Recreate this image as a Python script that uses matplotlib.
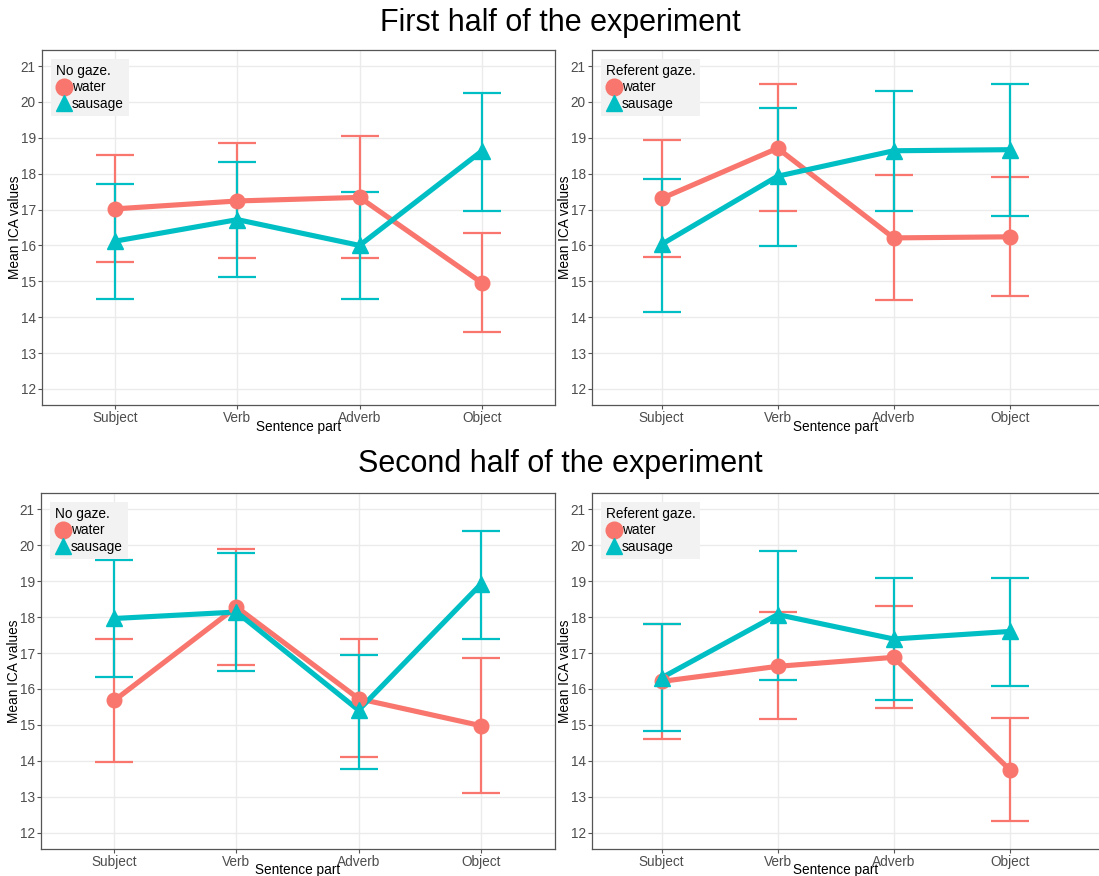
import matplotlib
matplotlib.use("Agg")
import matplotlib.pyplot as plt
from matplotlib.lines import Line2D
import numpy as np

plt.rcParams['font.family'] = ['Liberation Sans', 'DejaVu Sans']

categories = ["Subject", "Verb", "Adverb", "Object"]
series_names = ["water", "sausage"]
legend_titles = ["No gaze.", "Referent gaze.", "No gaze.", "Referent gaze."]
titles = ["First half of the experiment", "Second half of the experiment"]

# panel 1: first half, no gaze
p1_water = [17.02, 17.24, 17.34, 14.96]
p1_water_lo = [15.55, 15.65, 15.64, 13.58]
p1_water_hi = [18.51, 18.85, 19.04, 16.36]
p1_sausage = [16.12, 16.72, 16.00, 18.63]
p1_sausage_lo = [14.52, 15.12, 14.50, 16.96]
p1_sausage_hi = [17.70, 18.32, 17.49, 20.24]

# panel 2: first half, referent gaze
p2_water = [17.31, 18.71, 16.21, 16.24]
p2_water_lo = [15.69, 16.95, 14.47, 14.59]
p2_water_hi = [18.93, 20.49, 17.96, 17.90]
p2_sausage = [16.03, 17.93, 18.64, 18.67]
p2_sausage_lo = [14.15, 15.98, 16.95, 16.82]
p2_sausage_hi = [17.86, 19.83, 20.32, 20.50]

# panel 3: second half, no gaze
p3_water = [15.68, 18.28, 15.73, 14.98]
p3_water_lo = [13.96, 16.68, 14.10, 13.11]
p3_water_hi = [17.40, 19.88, 17.38, 16.85]
p3_sausage = [17.96, 18.14, 15.41, 18.91]
p3_sausage_lo = [16.32, 16.49, 13.78, 17.38]
p3_sausage_hi = [19.58, 19.77, 16.94, 20.38]

# panel 4: second half, referent gaze
p4_water = [16.21, 16.63, 16.88, 13.76]
p4_water_lo = [14.60, 15.16, 15.46, 12.33]
p4_water_hi = [17.80, 18.13, 18.30, 15.19]
p4_sausage = [16.31, 18.07, 17.39, 17.60]
p4_sausage_lo = [14.82, 16.26, 15.68, 16.07]
p4_sausage_hi = [17.81, 19.85, 19.09, 19.10]

y_ticks = [12, 13, 14, 15, 16, 17, 18, 19, 20, 21]

panels = [
    (p1_water, p1_water_lo, p1_water_hi, p1_sausage, p1_sausage_lo, p1_sausage_hi),
    (p2_water, p2_water_lo, p2_water_hi, p2_sausage, p2_sausage_lo, p2_sausage_hi),
    (p3_water, p3_water_lo, p3_water_hi, p3_sausage, p3_sausage_lo, p3_sausage_hi),
    (p4_water, p4_water_lo, p4_water_hi, p4_sausage, p4_sausage_lo, p4_sausage_hi),
]

colors = ["#F8766D", "#00BFC4"]
markers = ["o", "^"]
msizes = [10.5, 11.5]

W, H = 1099, 876
fig = plt.figure(figsize=(W / 100, H / 100), dpi=100)

# pixel boxes (left, top, right, bottom); right panels run past the figure edge
unit_left = (555 - 42) / 4.2
unit_right = 116.0
boxes = [
    (42, 50, 555, 405, unit_left),
    (592, 50, 1110, 405, unit_right),
    (41, 493, 555, 849, unit_left),
    (592, 493, 1110, 849, unit_right),
]
label_tops = [420, 420, 863, 863]

x = np.arange(1, len(categories) + 1)

for i, (box, data) in enumerate(zip(boxes, panels)):
    l, t, r, b, unit = box
    ax = fig.add_axes([l / W, 1 - b / H, (r - l) / W, (b - t) / H])
    xmax = 0.4 + (r - l) / unit
    ax.set_xlim(0.4, xmax)
    ax.set_ylim(11.55, 21.45)
    ax.set_facecolor("white")
    ax.grid(True, color="#EBEBEB", linewidth=1.0, zorder=0)
    ax.set_axisbelow(True)
    for s in ax.spines.values():
        s.set_color("#555555")
        s.set_linewidth(0.9)
    if r > W:
        ax.spines["right"].set_visible(False)

    vals = [(data[0], data[1], data[2]), (data[3], data[4], data[5])]
    for k, (m, lo, hi) in enumerate(vals):
        m = np.array(m); lo = np.array(lo); hi = np.array(hi)
        ax.errorbar(x, m, yerr=[m - lo, hi - m], fmt="none", ecolor=colors[k],
                    elinewidth=1.6, capsize=14, capthick=1.6, zorder=2)
    for k, (m, lo, hi) in enumerate(vals):
        ax.plot(x, m, color=colors[k], linewidth=3.7, zorder=3, solid_capstyle="butt")
    for k, (m, lo, hi) in enumerate(vals):
        ax.plot(x, m, linestyle="none", marker=markers[k], markersize=msizes[k],
                color=colors[k], zorder=4)

    ax.set_xticks(x)
    ax.set_xticklabels(categories)
    ax.set_yticks(y_ticks)
    ax.tick_params(axis="both", labelsize=9.8, labelcolor="#4D4D4D", color="#555555",
                   length=3, width=0.8, pad=1.5)
    ax.set_ylabel("Mean ICA values", fontsize=9.8, color="black", labelpad=-1)
    ax.set_xlabel("Sentence part", fontsize=9.8, color="black")
    cx = (0.4 + 4.6) / 2
    ax.xaxis.set_label_coords((cx - 0.4) / (xmax - 0.4), -(label_tops[i] - b) / (b - t))
    ax.xaxis.label.set_va("top")

    handles = [Line2D([], [], linestyle="none", marker=markers[k], markersize=12,
                      color=colors[k]) for k in range(2)]
    leg = ax.legend(handles, series_names, title=legend_titles[i], loc="upper left",
                    fontsize=9.8, title_fontsize=9.8, frameon=True, fancybox=False,
                    facecolor="#F2F2F2", edgecolor="none", framealpha=1,
                    handletextpad=0.0, labelspacing=0.2, borderpad=0.35,
                    handlelength=1.2, borderaxespad=0.65)
    leg._legend_box.align = "left"
    leg.set_zorder(5)

fig.text(560 / W, 1 - 23 / H, titles[0], ha="center", va="center", fontsize=22)
fig.text(560 / W, 1 - 464 / H, titles[1], ha="center", va="center", fontsize=22)

fig.savefig("out.png", dpi=100)
